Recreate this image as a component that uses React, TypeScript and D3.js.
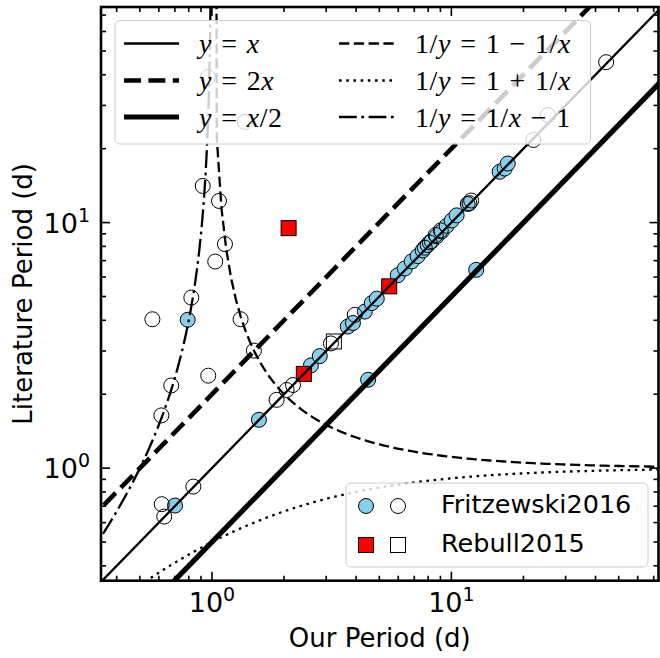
import React from 'react';
import * as d3 from 'd3';

const W = 660;
const H = 658;

const X_DOMAIN: [number, number] = [0.344, 73.3];
const Y_DOMAIN: [number, number] = [0.348, 75.5];

// Fritzewski2016: periods that agree (filled)
const fritzMatchOur = [0.792, 0.701, 1.571, 2.59, 2.82, 3.69, 3.88, 4.35, 4.65, 4.88, 5.97, 6.39, 6.83, 7.23, 7.59, 7.96, 8.28, 8.68, 9.11, 9.56, 10.03, 10.52, 11.7, 15.9, 16.7, 17.2, 4.49, 12.7];
const fritzMatchLit = [4.02, 0.704, 1.573, 2.62, 2.86, 3.77, 3.9, 4.34, 4.7, 4.9, 6.1, 6.5, 6.95, 7.3, 7.7, 8.1, 8.4, 8.8, 9.2, 9.7, 10.2, 10.7, 11.9, 16.1, 16.6, 17.4, 2.29, 6.42];

// Fritzewski2016: other periods (open)
const fritzOtherOur = [0.962, 1.373, 0.915, 1.07, 1.133, 1.032, 0.82, 0.564, 1.317, 1.497, 0.965, 0.676, 0.615, 0.836, 0.617, 0.632, 1.862, 2.05, 2.18, 3.14, 3.95, 7.74, 8.12, 8.6, 9.03, 11.9, 12.1, 22.0, 25.3, 44.3];
const fritzOtherLit = [39.2, 25.7, 14.1, 12.25, 8.17, 6.94, 4.95, 4.04, 4.04, 3.01, 2.38, 2.17, 1.64, 0.841, 0.713, 0.635, 1.897, 2.08, 2.18, 3.22, 4.21, 7.9, 8.3, 8.9, 9.3, 12.0, 12.3, 21.7, 27.4, 45.0];

// Rebull2015
const rebullMatchOur = [2.09, 2.42, 5.5];
const rebullMatchLit = [9.49, 2.42, 5.5];
const rebullOtherOur = [3.23];
const rebullOtherLit = [3.28];

const xTickMajor = [1, 10];
const yTickMajor = [1, 10];
const tickExponents = ['0', '1'];

const margin = { left: 101, right: 658.5, top: 7, bottom: 580.7 };

const x = d3.scaleLog().domain(X_DOMAIN).range([margin.left, margin.right]);
const y = d3.scaleLog().domain(Y_DOMAIN).range([margin.bottom, margin.top]);

function minorTicks(domain: [number, number]) {
  const out: number[] = [];
  for (let e = -1; e <= 2; e++) {
    for (let m = 1; m <= 9; m++) {
      const v = m * Math.pow(10, e);
      if (m !== 1 && v >= domain[0] && v <= domain[1]) out.push(v);
    }
  }
  return out;
}

const line = d3
  .line<[number, number]>()
  .x((d) => x(d[0]))
  .y((d) => y(d[1]));

function grid(lo: number, hi: number, step: number) {
  const pts: number[] = [];
  for (let e = Math.log10(lo); e <= Math.log10(hi) + 1e-9; e += step) pts.push(Math.pow(10, e));
  return pts;
}

const ends = [0.3, 80];
const identity = ends.map((v) => [v, v] as [number, number]);
const doubled = ends.map((v) => [v, 2 * v] as [number, number]);
const halved = ends.map((v) => [v, v / 2] as [number, number]);

// 1/y = 1 - 1/x  (x > 1)
const aliasMinus: [number, number][] = [[1 + 1e-13, 1 / (1 - 1 / (1 + 1e-13))]].concat(
  grid(Math.pow(10, 0.02), 90, 0.02).map((v) => [v, 1 / (1 - 1 / v)] as [number, number])
) as [number, number][];
// 1/y = 1 + 1/x
const aliasPlus = grid(0.3, 90, 0.01).map((v) => [v, 1 / (1 + 1 / v)] as [number, number]);
// 1/y = 1/x - 1  (x < 1)
const aliasBeat = grid(0.3, 0.999, 0.005).map((v) => [v, 1 / (1 / v - 1)] as [number, number]);

const TXT = '"DejaVu Sans", sans-serif';
const MATH = '"Liberation Serif", "Times New Roman", serif';

const BLUE = '#87ceeb';
const RED = '#ff0000';

function MathLabel({ x0, y0, text }: { x0: number; y0: number; text: string }) {
  const tokens = text.split('');
  return (
    <text x={x0} y={y0} fontFamily={MATH} fontSize={28} letterSpacing={0.6} wordSpacing={1.5} fill="#000">
      {tokens.map((c, i) => (
        <tspan key={i} fontStyle={/[a-z]/.test(c) ? 'italic' : 'normal'}>
          {c}
        </tspan>
      ))}
    </text>
  );
}

export default function App() {
  const xMinor = minorTicks(X_DOMAIN);
  const yMinor = minorTicks(Y_DOMAIN);
  const L = margin.left;
  const R = margin.right;
  const T = margin.top;
  const B = margin.bottom;

  const thin = 2.3;
  const dashThin = '10.3,4.5';
  const dotThin = '2.6,4.6';
  const dashDotThin = '17.8,4.5,2.8,4.5';

  const legendRows = [43.5, 80.5, 117];
  const col1 = { h0: 124, h1: 179, t: 199 };
  const col2 = { h0: 339, h1: 394, t: 415 };

  const circle = (cx: number, cy: number, fill: string, key: string) => (
    <circle key={key} cx={cx} cy={cy} r={7.5} fill={fill} stroke="#000" strokeWidth={1} />
  );
  const square = (cx: number, cy: number, fill: string, key: string) => (
    <rect key={key} x={cx - 7.5} y={cy - 7.5} width={15} height={15} fill={fill} stroke="#000" strokeWidth={1} />
  );

  return (
    <svg width={W} height={H} style={{ position: 'absolute', left: 0, top: 0, background: '#fff' }}>
      <defs>
        <clipPath id="plotArea">
          <rect x={L} y={T} width={R - L} height={B - T} />
        </clipPath>
      </defs>
      <rect x={0} y={0} width={W} height={H} fill="#fff" />

      <g clipPath="url(#plotArea)">
        {/* markers */}
        {fritzMatchOur.map((v, i) => circle(x(v), y(fritzMatchLit[i]), BLUE, 'fm' + i))}
        {fritzOtherOur.map((v, i) => circle(x(v), y(fritzOtherLit[i]), 'none', 'fo' + i))}
        {rebullMatchOur.map((v, i) => square(x(v), y(rebullMatchLit[i]), RED, 'rm' + i))}
        {rebullOtherOur.map((v, i) => square(x(v), y(rebullOtherLit[i]), 'none', 'ro' + i))}

        {/* reference relations */}
        <path d={line(identity) || ''} fill="none" stroke="#000" strokeWidth={thin} />
        <path d={line(doubled) || ''} fill="none" stroke="#000" strokeWidth={4.6} strokeDasharray="17,7.4" />
        <path d={line(halved) || ''} fill="none" stroke="#000" strokeWidth={5.2} />
        <path d={line(aliasMinus) || ''} fill="none" stroke="#000" strokeWidth={thin} strokeDasharray={dashThin} />
        <path d={line(aliasPlus) || ''} fill="none" stroke="#000" strokeWidth={thin} strokeDasharray={dotThin} />
        <path d={line(aliasBeat) || ''} fill="none" stroke="#000" strokeWidth={thin} strokeDasharray={dashDotThin} />
      </g>

      {/* ticks on all four sides, pointing inward */}
      <g stroke="#000" strokeWidth={1.6}>
        {xTickMajor.map((v) => (
          <g key={'xM' + v}>
            <line x1={x(v)} x2={x(v)} y1={B} y2={B - 9} />
            <line x1={x(v)} x2={x(v)} y1={T} y2={T + 9} />
          </g>
        ))}
        {xMinor.map((v) => (
          <g key={'xm' + v}>
            <line x1={x(v)} x2={x(v)} y1={B} y2={B - 5} />
            <line x1={x(v)} x2={x(v)} y1={T} y2={T + 5} />
          </g>
        ))}
        {yTickMajor.map((v) => (
          <g key={'yM' + v}>
            <line x1={L} x2={L + 9} y1={y(v)} y2={y(v)} />
            <line x1={R} x2={R - 9} y1={y(v)} y2={y(v)} />
          </g>
        ))}
        {yMinor.map((v) => (
          <g key={'ym' + v}>
            <line x1={L} x2={L + 5} y1={y(v)} y2={y(v)} />
            <line x1={R} x2={R - 5} y1={y(v)} y2={y(v)} />
          </g>
        ))}
      </g>
      <rect x={L} y={T} width={R - L} height={B - T} fill="none" stroke="#000" strokeWidth={2.6} />

      {/* tick labels */}
      {xTickMajor.map((v, i) => (
        <text key={'xl' + v} x={x(v)} y={612} textAnchor="middle" fontFamily={TXT} fontSize={27}>
          10<tspan dy={-11} fontSize={19}>{tickExponents[i]}</tspan>
        </text>
      ))}
      {yTickMajor.map((v, i) => (
        <text key={'yl' + v} x={90} y={y(v) + 10} textAnchor="end" fontFamily={TXT} fontSize={27}>
          10<tspan dy={-11} fontSize={19}>{tickExponents[i]}</tspan>
        </text>
      ))}

      {/* axis titles */}
      <text x={(L + R) / 2} y={647} textAnchor="middle" fontFamily={TXT} fontSize={26}>
        Our Period (d)
      </text>
      <text
        transform={`translate(32,${(T + B) / 2}) rotate(-90)`}
        textAnchor="middle"
        fontFamily={TXT}
        fontSize={26}
      >
        Literature Period (d)
      </text>

      {/* relation legend */}
      <rect x={115} y={20.5} width={475.5} height={123.5} rx={5} fill="#fff" fillOpacity={0.8} stroke="#ccc" strokeWidth={1} />
      <g stroke="#000" fill="none">
        <line x1={col1.h0} x2={col1.h1} y1={legendRows[0]} y2={legendRows[0]} strokeWidth={thin} />
        <line x1={col1.h0} x2={col1.h1} y1={legendRows[1]} y2={legendRows[1]} strokeWidth={4.6} strokeDasharray="17,7.4" />
        <line x1={col1.h0} x2={col1.h1} y1={legendRows[2]} y2={legendRows[2]} strokeWidth={5.2} />
        <line x1={col2.h0} x2={col2.h1} y1={legendRows[0]} y2={legendRows[0]} strokeWidth={thin} strokeDasharray={dashThin} />
        <line x1={col2.h0} x2={col2.h1} y1={legendRows[1]} y2={legendRows[1]} strokeWidth={thin} strokeDasharray={dotThin} />
        <line x1={col2.h0} x2={col2.h1} y1={legendRows[2]} y2={legendRows[2]} strokeWidth={thin} strokeDasharray={dashDotThin} />
      </g>
      <MathLabel x0={col1.t} y0={legendRows[0] + 9.5} text="y = x" />
      <MathLabel x0={col1.t} y0={legendRows[1] + 9.5} text="y = 2x" />
      <MathLabel x0={col1.t} y0={legendRows[2] + 9.5} text="y = x/2" />
      <MathLabel x0={col2.t} y0={legendRows[0] + 9.5} text="1/y = 1 − 1/x" />
      <MathLabel x0={col2.t} y0={legendRows[1] + 9.5} text="1/y = 1 + 1/x" />
      <MathLabel x0={col2.t} y0={legendRows[2] + 9.5} text="1/y = 1/x − 1" />

      {/* catalogue legend */}
      <rect x={346} y={483} width={302} height={84} rx={5} fill="#fff" fillOpacity={0.8} stroke="#ccc" strokeWidth={1} />
      {circle(366, 506, BLUE, 'lg1')}
      {circle(398, 506, '#fff', 'lg2')}
      {square(366, 545, RED, 'lg3')}
      {square(398, 545, '#fff', 'lg4')}
      <text x={441} y={513} fontFamily={TXT} fontSize={25.5}>Fritzewski2016</text>
      <text x={441} y={552} fontFamily={TXT} fontSize={25.5}>Rebull2015</text>
    </svg>
  );
}
